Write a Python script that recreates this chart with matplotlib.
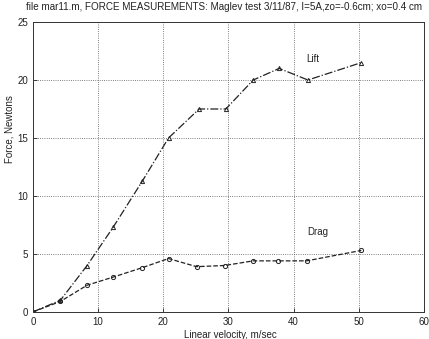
import matplotlib
matplotlib.use("Agg")
import matplotlib.pyplot as plt

plt.rcParams['font.family'] = ['Liberation Sans', 'DejaVu Sans']

velocity_lift = [0, 4.2, 8.3, 12.3, 16.8, 20.8, 25.5, 29.6, 33.8, 37.8, 42.2, 50.4]
lift = [0, 1.0, 4.0, 7.3, 11.3, 15.0, 17.5, 17.5, 20.0, 21.0, 20.0, 21.5]
velocity_drag = [0, 4.2, 8.3, 12.3, 16.7, 20.8, 25.1, 29.4, 33.8, 37.6, 42.0, 50.4]
drag = [0, 0.9, 2.3, 3.0, 3.8, 4.6, 3.9, 4.0, 4.4, 4.4, 4.4, 5.3]
xticks = [0, 10, 20, 30, 40, 50, 60]
yticks = [0, 5, 10, 15, 20, 25]

fig = plt.figure(figsize=(4.29, 3.39), dpi=100)
ax = fig.add_axes([0.077, 0.080, 0.911, 0.855])

ax.plot(velocity_lift, lift, linestyle='-.', color='#222222', linewidth=0.9,
        marker='^', markersize=3, markerfacecolor='none', markeredgewidth=0.7)
ax.plot(velocity_drag, drag, linestyle='--', color='#222222', linewidth=0.9,
        marker='o', markersize=3, markerfacecolor='none', markeredgewidth=0.7)

ax.set_xlim(0, 60)
ax.set_ylim(0, 25)
ax.set_xticks(xticks)
ax.set_yticks(yticks)
ax.tick_params(direction='in', labelsize=7, length=3, width=0.6, colors='#222222')
ax.grid(True, linestyle=':', color='#555555', linewidth=0.6)
for s in ax.spines.values():
    s.set_linewidth(0.7)
    s.set_color('#333333')

ax.text(43, 21.8, 'Lift', fontsize=7, ha='center', va='center', color='#222222')
ax.text(43.7, 6.9, 'Drag', fontsize=7, ha='center', va='center', color='#222222')

ax.set_xlabel('Linear velocity, m/sec', fontsize=7, color='#222222')
ax.xaxis.set_label_coords(0.505, -0.062)
ax.set_ylabel('Force, Newtons', fontsize=7, color='#222222')
ax.yaxis.set_label_coords(-0.048, 0.63)
fig.text(0.061, 0.978, 'file mar11.m, FORCE MEASUREMENTS: Maglev test 3/11/87, I=5A,zo=-0.6cm; xo=0.4 cm',
         fontsize=7.1, ha='left', va='center', color='#222222')

fig.savefig('out.png', dpi=100)
